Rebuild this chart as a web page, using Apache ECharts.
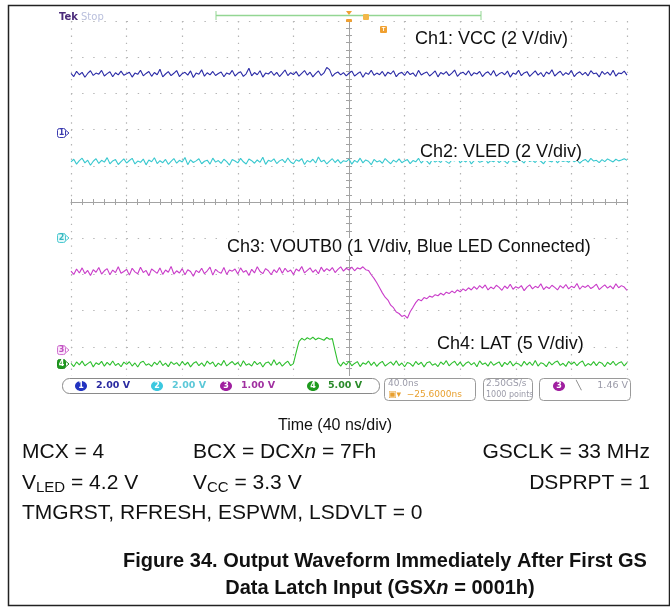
<!DOCTYPE html>
<html>
<head>
<meta charset="utf-8">
<title>Output Waveform Immediately After First GS Data Latch Input</title>
<style>
  html, body { margin: 0; padding: 0; background: #fff; }
  #chart { width: 670px; height: 614px; }
</style>
<script src="https://cdn.jsdelivr.net/npm/echarts@6/dist/echarts.min.js"></script>
</head>
<body>
<div id="chart"></div>
<script>
// scope record: one value every 2 ns, -200 .. +200 ns (40 ns/div)
const T_START = -200;
const T_STEP = 2;

// Ch1: VCC, volts
const CH1_VCC = [
  3.30,3.12,3.41,3.22,3.35,3.08,3.29,3.44,3.18,3.31,3.25,3.46,3.15,3.28,3.38,3.11,3.33,3.21,3.42,3.19,
  3.27,3.36,3.09,3.31,3.24,3.47,3.16,3.29,3.40,3.13,3.34,3.22,3.52,3.10,3.26,3.39,3.17,3.30,3.45,3.12,
  3.28,3.35,3.20,3.43,3.07,3.31,3.25,3.49,3.14,3.33,3.21,3.40,3.18,3.29,3.37,3.11,3.32,3.24,3.46,3.15,
  3.30,3.38,3.13,3.27,3.58,3.16,3.34,3.22,3.44,3.09,3.31,3.26,3.41,3.19,3.35,3.12,3.29,3.48,3.17,3.33,
  3.23,3.39,3.14,3.30,3.45,3.20,3.36,3.10,3.28,3.43,3.18,3.32,3.62,3.50,3.13,3.29,3.37,3.21,3.34,3.16,
  3.30,3.42,3.15,3.27,3.38,3.08,3.33,3.24,3.47,3.19,3.31,3.22,3.40,3.14,3.36,3.26,3.44,3.11,3.29,3.35,
  3.18,3.41,3.23,3.32,3.12,3.46,3.20,3.30,3.37,3.15,3.28,3.43,3.10,3.34,3.25,3.39,3.17,3.31,3.48,3.13,
  3.29,3.36,3.21,3.44,3.16,3.33,3.26,3.40,3.12,3.30,3.38,3.19,3.45,3.14,3.27,3.35,3.22,3.42,3.09,3.31,
  3.24,3.47,3.17,3.32,3.39,3.13,3.28,3.43,3.20,3.34,3.11,3.37,3.26,3.49,3.15,3.30,3.41,3.18,3.33,3.23,
  3.46,3.12,3.29,3.38,3.21,3.35,3.16,3.44,3.27,3.31,3.10,3.40,3.24,3.36,3.19,3.47,3.14,3.32,3.28,3.42,3.20
];

// Ch2: VLED, volts
const CH2_VLED = [
  4.20,4.35,4.08,4.27,4.41,4.15,4.30,4.02,4.24,4.38,4.12,4.29,4.19,4.44,4.10,4.26,4.33,4.06,4.22,4.37,
  4.14,4.28,4.40,4.09,4.25,4.18,4.36,4.04,4.31,4.21,4.43,4.11,4.27,4.16,4.34,4.07,4.23,4.39,4.13,4.29,
  4.20,4.45,4.05,4.32,4.17,4.26,4.38,4.10,4.24,4.30,4.08,4.41,4.19,4.28,4.12,4.35,4.22,4.03,4.33,4.25,
  4.15,4.40,4.21,4.09,4.36,4.27,4.13,4.31,4.18,4.46,4.07,4.29,4.23,4.37,4.11,4.26,4.34,4.16,4.42,4.20,
  4.10,4.32,4.24,4.39,4.06,4.28,4.19,4.35,4.14,4.47,4.21,4.30,4.09,4.25,4.38,4.17,4.33,4.12,4.27,4.22,
  4.36,4.08,4.29,4.18,4.41,4.15,4.31,4.24,4.05,4.34,4.20,4.27,4.13,4.39,4.23,4.10,4.30,4.19,4.37,4.16,
  4.26,4.33,4.11,4.28,4.21,4.40,4.14,4.32,4.25,4.08,4.35,4.19,4.29,4.17,4.38,4.22,4.12,4.31,4.26,4.43,
  4.15,4.30,4.20,4.36,4.09,4.27,4.33,4.18,4.24,4.39,4.13,4.28,4.21,4.34,4.16,4.30,4.25,4.11,4.37,4.23,
  4.19,4.32,4.27,4.14,4.40,4.22,4.29,4.17,4.35,4.24,4.10,4.33,4.26,4.20,4.38,4.15,4.31,4.23,4.28,4.18,
  4.36,4.21,4.30,4.13,4.27,4.34,4.19,4.40,4.25,4.29,4.16,4.33,4.22,4.37,4.28,4.20,4.35,4.26,4.31,4.38,4.30
];

// Ch3: VOUTB0, volts (blue LED connected)
const CH3_VOUTB0 = [
  2.18,2.09,2.24,2.13,2.27,2.11,2.20,2.06,2.22,2.15,2.28,2.10,2.19,2.25,2.08,2.21,2.14,2.30,2.12,2.17,
  2.23,2.07,2.26,2.16,2.11,2.29,2.14,2.20,2.05,2.24,2.18,2.12,2.27,2.09,2.21,2.15,2.31,2.10,2.19,2.13,
  2.25,2.08,2.22,2.17,2.04,2.20,2.14,2.26,2.11,2.19,2.29,2.07,2.23,2.16,2.12,2.28,2.09,2.21,2.18,2.24,
  2.10,2.27,2.15,2.20,2.06,2.23,2.13,2.30,2.17,2.11,2.25,2.19,2.08,2.22,2.14,2.28,2.12,2.26,2.16,2.21,
  2.09,2.24,2.18,2.31,2.13,2.20,2.27,2.15,2.22,2.11,2.29,2.17,2.25,2.19,2.28,2.14,2.23,2.30,2.18,2.26,
  2.21,2.29,2.19,2.27,2.24,2.30,2.22,
  2.20,2.08,1.98,1.86,1.72,1.58,1.46,1.38,1.24,1.17,1.05,1.01,0.93,0.96,0.88,
  1.06,1.18,1.31,1.40,1.36,1.45,1.42,1.49,1.46,1.53,1.50,1.57,1.52,1.60,1.56,
  1.63,1.58,1.66,1.61,1.69,1.64,1.72,1.66,1.75,
  1.68,1.78,1.71,1.80,1.66,1.74,1.69,1.79,1.73,1.65,
  1.77,1.70,1.82,1.68,1.75,1.71,1.78,1.64,1.74,1.80,
  1.69,1.76,1.72,1.83,1.67,1.75,1.70,1.79,1.73,1.66,
  1.78,1.71,1.81,1.69,1.76,1.72,1.84,1.68,1.77,1.73,
  1.79,1.70,1.75,1.82,1.67,1.74,1.80,1.71,1.77,1.69,
  1.83,1.72,1.78,1.74,1.65
];

// Ch4: LAT, volts
const CH4_LAT = [
  0.10,-0.35,0.28,-0.12,0.40,-0.25,0.05,0.33,-0.40,0.18,-0.08,0.36,-0.30,0.22,-0.15,0.42,-0.20,0.08,-0.38,0.26,
  -0.05,0.31,-0.28,0.14,-0.42,0.20,0.38,-0.18,0.02,-0.33,0.25,-0.10,0.45,-0.22,0.12,-0.36,0.30,-0.06,0.19,-0.27,
  0.35,-0.14,0.24,-0.40,0.09,0.32,-0.24,0.16,-0.32,0.40,-0.02,0.27,-0.37,0.13,-0.19,0.50,-0.26,0.06,0.34,-0.11,
  0.21,-0.34,0.44,-0.16,0.03,-0.29,0.37,-0.08,0.23,-0.41,0.15,0.29,-0.21,0.60,-0.13,0.26,-0.31,0.10,0.39,-0.23,
  0.05,1.60,3.10,
  3.55,3.30,3.62,3.40,3.70,3.35,3.58,3.45,3.28,3.66,3.42,3.50,
  1.80,0.20,
  -0.30,0.25,-0.12,0.38,-0.24,0.08,0.33,-0.36,0.16,-0.05,
  0.41,-0.19,0.27,-0.33,0.11,0.36,-0.27,0.02,0.30,-0.15,
  0.44,-0.22,0.14,-0.38,0.21,0.06,-0.31,0.35,-0.09,0.24,
  -0.40,0.18,0.32,-0.17,0.04,-0.35,0.28,-0.07,0.46,-0.25,
  0.12,0.37,-0.20,0.26,-0.34,0.09,0.31,-0.13,0.20,-0.39,
  0.43,-0.06,0.15,-0.29,0.34,-0.18,0.07,0.29,-0.37,0.22,
  -0.10,0.39,-0.26,0.13,0.01,-0.32,0.36,-0.14,0.25,-0.21,
  0.48,-0.28,0.17,0.03,-0.36,0.30,-0.11,0.23,0.40,-0.19,
  0.10,-0.33,0.35,-0.04,0.27,-0.24,0.19,0.42,-0.30,0.06,
  -0.16,0.33,-0.23,0.28,0.11,-0.38,0.24,-0.08,0.37,-0.20,
  0.15,0.31,-0.27,0.18
];

// scope settings: V/div and ground marker position (divisions from screen centre)
const CHANNELS = [
  { id: 1, data: CH1_VCC,    vdiv: 2, ground: 1.906,  color: '#2b2ba6', label: 'Ch1: VCC (2 V/div)' },
  { id: 2, data: CH2_VLED,   vdiv: 2, ground: -0.994, color: '#38c8cf', label: 'Ch2: VLED (2 V/div)' },
  { id: 3, data: CH3_VOUTB0, vdiv: 1, ground: -4.09,  color: '#c93cc9', label: 'Ch3: VOUTB0 (1 V/div, Blue LED Connected)' },
  { id: 4, data: CH4_LAT,    vdiv: 5, ground: -4.475, color: '#2fbf2f', label: 'Ch4: LAT (5 V/div)' }
];

const chart = echarts.init(document.getElementById('chart'), null, { renderer: 'canvas' });

const GRID = { left: 71, top: 21, width: 556, height: 362 };
const DOT = '#b4b4b4';
const AXIS = '#a3a3a3';

// text width helper for multi-part labels (subscripts, italics)
const mctx = document.createElement('canvas').getContext('2d');
function tw(str, font) { mctx.font = font; return mctx.measureText(str).width; }

// parts: [{t, font, dy}] laid left to right from x (or centred / right-aligned)
function spans(x, y, parts, align) {
  const widths = parts.map(p => tw(p.t, p.font));
  const total = widths.reduce((a, b) => a + b, 0);
  let cx = align === 'center' ? x - total / 2 : align === 'right' ? x - total : x;
  return parts.map((p, i) => {
    const el = {
      type: 'text', x: cx, y: y + (p.dy || 0), z: 100,
      style: { text: p.t, font: p.font, fill: '#111', textVerticalAlign: 'middle' }
    };
    cx += widths[i];
    return el;
  });
}

const BODY = '21px "Liberation Sans", Arial, sans-serif';
const BODY_I = 'italic 21px "Liberation Sans", Arial, sans-serif';
const SUB = '15px "Liberation Sans", Arial, sans-serif';
const CAP = 'bold 20px "Liberation Sans", Arial, sans-serif';
const CAP_I = 'bold italic 20px "Liberation Sans", Arial, sans-serif';
const SCOPE = 'bold 9.5px "DejaVu Sans", sans-serif';

const option = {
  backgroundColor: '#fff',
  animation: false,
  grid: Object.assign({ containLabel: false }, GRID),
  xAxis: [
    {
      type: 'value', min: -200, max: 200, interval: 40,
      axisLine: { onZero: true, lineStyle: { color: AXIS, width: 1 } },
      axisTick: { show: true, inside: true, length: 3, lineStyle: { color: AXIS } },
      minorTick: { show: true, splitNumber: 5, length: 3, lineStyle: { color: AXIS } },
      axisLabel: { show: false },
      splitLine: { show: true, lineStyle: { color: DOT, width: 1.2, type: [1.4, 5.84] } }
    },
    {
      type: 'value', min: -200, max: 200, interval: 40, position: 'bottom',
      axisLine: { onZero: true, show: false },
      axisTick: { show: true, inside: false, length: 3, lineStyle: { color: AXIS } },
      minorTick: { show: true, splitNumber: 5, length: 3, lineStyle: { color: AXIS } },
      axisLabel: { show: false },
      splitLine: { show: false }
    }
  ],
  yAxis: [
    {
      type: 'value', min: -5, max: 5, interval: 1,
      axisLine: { onZero: true, lineStyle: { color: AXIS, width: 1 } },
      axisTick: { show: true, inside: true, length: 3, lineStyle: { color: AXIS } },
      minorTick: { show: true, splitNumber: 5, length: 3, lineStyle: { color: AXIS } },
      axisLabel: { show: false },
      splitLine: { show: true, lineStyle: { color: DOT, width: 1.2, type: [1.4, 9.72] } }
    },
    {
      type: 'value', min: -5, max: 5, interval: 1, position: 'left',
      axisLine: { onZero: true, show: false },
      axisTick: { show: true, inside: false, length: 3, lineStyle: { color: AXIS } },
      minorTick: { show: true, splitNumber: 5, length: 3, lineStyle: { color: AXIS } },
      axisLabel: { show: false },
      splitLine: { show: false }
    }
  ],
  series: CHANNELS.map(ch => ({
    type: 'line',
    name: 'Ch' + ch.id,
    xAxisIndex: 0,
    yAxisIndex: 0,
    showSymbol: false,
    silent: true,
    z: 3,
    lineStyle: { color: ch.color, width: 1.1 },
    data: ch.data.map((v, i) => [T_START + i * T_STEP, v / ch.vdiv + ch.ground])
  }))
};

chart.setOption(option);

// overlay pieces: labels, channel markers, readout bar, captions
const els = [];

// figure frame
els.push({ type: 'rect', shape: { x: 8.5, y: 5.5, width: 661, height: 600 }, z: 1,
  style: { fill: 'none', stroke: '#222', lineWidth: 1.5 } });

// top status line
els.push({ type: 'text', x: 59, y: 17, z: 100, style: { text: 'Tek', font: 'bold 10px "DejaVu Sans", sans-serif', fill: '#4a2a7a', textVerticalAlign: 'middle' } });
els.push({ type: 'text', x: 81, y: 17, z: 100, style: { text: 'Stop', font: '10px "DejaVu Sans", sans-serif', fill: '#b9bfdc', textVerticalAlign: 'middle' } });
els.push({ type: 'line', shape: { x1: 216, y1: 15.5, x2: 481, y2: 15.5 }, z: 100, style: { stroke: '#93d693', lineWidth: 1.5 } });
els.push({ type: 'line', shape: { x1: 216, y1: 11, x2: 216, y2: 20 }, z: 100, style: { stroke: '#93d693', lineWidth: 1 } });
els.push({ type: 'line', shape: { x1: 481, y1: 11, x2: 481, y2: 20 }, z: 100, style: { stroke: '#93d693', lineWidth: 1 } });
els.push({ type: 'polygon', shape: { points: [[346, 11], [352, 11], [349, 15]] }, z: 101, style: { fill: '#f0a030' } });
els.push({ type: 'rect', shape: { x: 346, y: 19, width: 6, height: 3, r: 1 }, z: 101, style: { fill: '#f0a030' } });
els.push({ type: 'rect', shape: { x: 363, y: 14, width: 6, height: 6, r: 1 }, z: 101, style: { fill: '#f2b84a' } });
els.push({ type: 'rect', shape: { x: 380, y: 26, width: 7, height: 7, r: 1 }, z: 101, style: { fill: '#f0a030' } });
els.push({ type: 'text', x: 383.5, y: 29.5, z: 102, style: { text: 'T', font: 'bold 6px sans-serif', fill: '#fff', textAlign: 'center', textVerticalAlign: 'middle' } });

// channel captions on the screen
const LABEL_POS = [[415, 39], [420, 152], [227, 247], [437, 344]];
CHANNELS.forEach((ch, k) => {
  els.push({ type: 'text', x: LABEL_POS[k][0], y: LABEL_POS[k][1], z: 100,
    style: { text: ch.label, font: '18px "Liberation Sans", Arial, sans-serif', fill: '#111',
      textVerticalAlign: 'middle', backgroundColor: '#fff', padding: [0, 0, 0, 0] } });
});

// ground markers on the left edge
const MARK_STYLE = [
  { stroke: '#3b3bb0', fill: '#fff', text: '#3b3bb0' },
  { stroke: '#48c8d0', fill: '#e6f9fa', text: '#38b8c0' },
  { stroke: '#d070d0', fill: '#fbe8fb', text: '#c050c0' },
  { stroke: '#1e8a1e', fill: '#1e9a1e', text: '#fff' }
];
CHANNELS.forEach((ch, k) => {
  const py = chart.convertToPixel({ yAxisIndex: 0 }, ch.ground);
  const m = MARK_STYLE[k];
  els.push({ type: 'rect', shape: { x: 57.5, y: py - 4.5, width: 8, height: 9, r: 2 }, z: 100,
    style: { fill: m.fill, stroke: m.stroke, lineWidth: 1 } });
  els.push({ type: 'text', x: 61.5, y: py, z: 101,
    style: { text: String(ch.id), font: 'bold 8px "DejaVu Sans", sans-serif', fill: m.text, textAlign: 'center', textVerticalAlign: 'middle' } });
  els.push({ type: 'polyline', shape: { points: [[66, py - 2.5], [69, py], [66, py + 2.5]] }, z: 100,
    style: { stroke: m.stroke, lineWidth: 1, fill: 'none' } });
});

// readout bar along the bottom of the screen
els.push({ type: 'rect', shape: { x: 60, y: 376, width: 574, height: 27 }, z: 90, style: { fill: '#fff' } });
els.push({ type: 'rect', shape: { x: 62.5, y: 378.5, width: 317, height: 15, r: 7 }, z: 91, style: { fill: '#fff', stroke: '#8a8a8a', lineWidth: 1 } });
els.push({ type: 'rect', shape: { x: 384.5, y: 378.5, width: 91, height: 22, r: 4 }, z: 91, style: { fill: '#fff', stroke: '#9a9a9a', lineWidth: 1 } });
els.push({ type: 'rect', shape: { x: 483.5, y: 378.5, width: 49, height: 22, r: 4 }, z: 91, style: { fill: '#fff', stroke: '#9a9a9a', lineWidth: 1 } });
els.push({ type: 'rect', shape: { x: 539.5, y: 378.5, width: 91, height: 22, r: 4 }, z: 91, style: { fill: '#fff', stroke: '#9a9a9a', lineWidth: 1 } });

const READOUT = [
  { cx: 81, tx: 96, circle: '#2233c0', text: '#2a2aa0', val: '2.00 V' },
  { cx: 157, tx: 172, circle: '#3cc8e0', text: '#5cc8d8', val: '2.00 V' },
  { cx: 226, tx: 241, circle: '#a020a0', text: '#a030a0', val: '1.00 V' },
  { cx: 313, tx: 328, circle: '#1e9a1e', text: '#2a8a2a', val: '5.00 V' }
];
READOUT.forEach((r, k) => {
  els.push({ type: 'ellipse', shape: { cx: r.cx, cy: 386, rx: 6, ry: 5 }, z: 92, style: { fill: r.circle } });
  els.push({ type: 'text', x: r.cx, y: 386, z: 93, style: { text: String(k + 1), font: 'bold 8px "DejaVu Sans", sans-serif', fill: '#fff', textAlign: 'center', textVerticalAlign: 'middle' } });
  els.push({ type: 'text', x: r.tx, y: 386, z: 93, style: { text: r.val, font: SCOPE, fill: r.text, textVerticalAlign: 'middle' } });
});
els.push({ type: 'text', x: 388, y: 384, z: 93, style: { text: '40.0ns', font: '9px "DejaVu Sans", sans-serif', fill: '#9a9aa8', textVerticalAlign: 'middle' } });
els.push({ type: 'text', x: 388, y: 395, z: 93, style: { text: '\u25A3\u25BE  \u221225.6000ns', font: '9px "DejaVu Sans", sans-serif', fill: '#e8a030', textVerticalAlign: 'middle' } });
els.push({ type: 'text', x: 486, y: 384, z: 93, style: { text: '2.50GS/s', font: '9px "DejaVu Sans", sans-serif', fill: '#9a9aa8', textVerticalAlign: 'middle' } });
els.push({ type: 'text', x: 486, y: 395, z: 93, style: { text: '1000 points', font: '8px "DejaVu Sans", sans-serif', fill: '#9a9aa8', textVerticalAlign: 'middle' } });
els.push({ type: 'ellipse', shape: { cx: 559, cy: 386, rx: 6, ry: 5 }, z: 92, style: { fill: '#a020a0' } });
els.push({ type: 'text', x: 559, y: 386, z: 93, style: { text: '3', font: 'bold 8px "DejaVu Sans", sans-serif', fill: '#fff', textAlign: 'center', textVerticalAlign: 'middle' } });
els.push({ type: 'text', x: 576, y: 386, z: 93, style: { text: '\u2572', font: '9px "DejaVu Sans", sans-serif', fill: '#777', textVerticalAlign: 'middle' } });
els.push({ type: 'text', x: 628, y: 386, z: 93, style: { text: '1.46 V', font: '9.5px "DejaVu Sans", sans-serif', fill: '#9a9aa8', textAlign: 'right', textVerticalAlign: 'middle' } });

// figure text below the screen
els.push({ type: 'text', x: 335, y: 426, z: 100, style: { text: 'Time (40 ns/div)', font: '16px "Liberation Sans", Arial, sans-serif', fill: '#111', textAlign: 'center', textVerticalAlign: 'middle' } });

els.push(...spans(22, 452, [{ t: 'MCX = 4', font: BODY }]));
els.push(...spans(193, 452, [{ t: 'BCX = DCX', font: BODY }, { t: 'n', font: BODY_I }, { t: ' = 7Fh', font: BODY }]));
els.push(...spans(650, 452, [{ t: 'GSCLK = 33 MHz', font: BODY }], 'right'));

els.push(...spans(22, 483, [{ t: 'V', font: BODY }, { t: 'LED', font: SUB, dy: 5 }, { t: ' = 4.2 V', font: BODY }]));
els.push(...spans(193, 483, [{ t: 'V', font: BODY }, { t: 'CC', font: SUB, dy: 5 }, { t: ' = 3.3 V', font: BODY }]));
els.push(...spans(650, 483, [{ t: 'DSPRPT = 1', font: BODY }], 'right'));

els.push(...spans(22, 513, [{ t: 'TMGRST, RFRESH, ESPWM, LSDVLT = 0', font: BODY }]));

els.push(...spans(385, 561, [{ t: 'Figure 34. Output Waveform Immediately After First GS', font: CAP }], 'center'));
els.push(...spans(380, 588, [{ t: 'Data Latch Input (GSX', font: CAP }, { t: 'n', font: CAP_I }, { t: ' = 0001h)', font: CAP }], 'center'));

chart.setOption({ graphic: { elements: els } });

window.addEventListener('resize', () => chart.resize());
</script>
</body>
</html>
